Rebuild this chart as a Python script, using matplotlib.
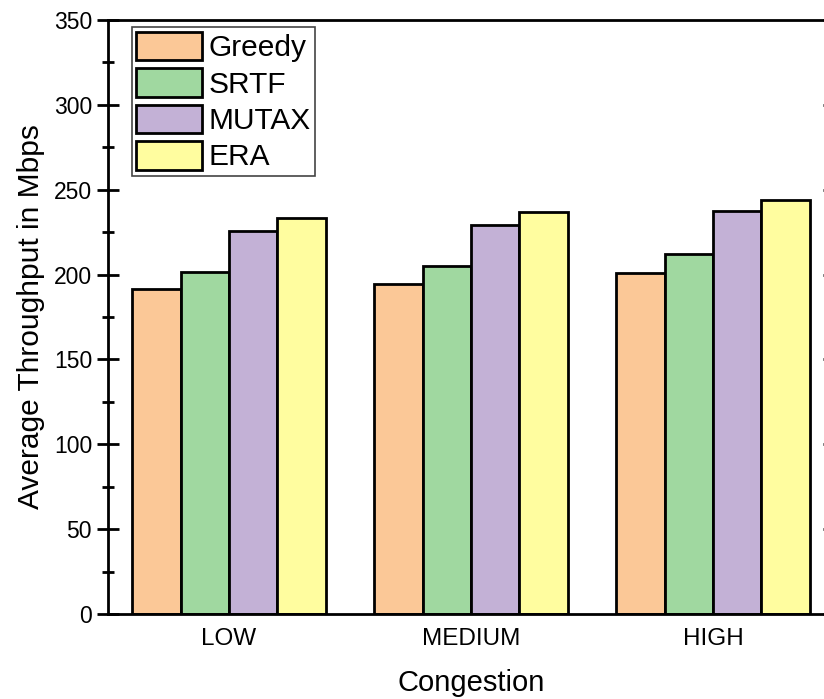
import numpy as np
import matplotlib as mpl
mpl.use('Agg')
import matplotlib.pyplot as plt
from matplotlib.ticker import MultipleLocator

plt.rcParams['font.family'] = ['Liberation Sans', 'DejaVu Sans']

categories = ['LOW', 'MEDIUM', 'HIGH']
methods = ['Greedy', 'SRTF', 'MUTAX', 'ERA']
greedy = [191.5, 194.5, 201]
srtf = [201.5, 205, 212]
mutax = [225.5, 229, 237.5]
era = [233.5, 237, 244]
colors = ['#fbc897', '#a0d8a0', '#c3b1d6', '#fffd9f']

fig = plt.figure(figsize=(8.24, 6.99), dpi=100)
# right edge of the axes sits just past the picture, as in the original
ax = fig.add_axes([108/824, 85/699, 726/824, 594/699])

x = np.arange(len(categories))
w = 0.2
for i, (vals, name) in enumerate(zip([greedy, srtf, mutax, era], methods)):
    ax.bar(x + (i - 1.5) * w, vals, w, color=colors[i], edgecolor='black',
           linewidth=2, label=name)

ax.set_xlim(-0.5, 2.5)
ax.set_ylim(0, 350)
ax.set_xticks(x)
ax.set_xticklabels(categories, fontsize=17.5)
ax.tick_params(axis='x', length=0, pad=10)
ax.yaxis.set_major_locator(MultipleLocator(50))
ax.yaxis.set_minor_locator(MultipleLocator(25))
ax.tick_params(axis='y', which='major', direction='inout', length=16, width=2,
               labelsize=16.5, right=True)
ax.tick_params(axis='y', which='minor', direction='inout', length=9, width=2,
               right=True)
for s in ax.spines.values():
    s.set_linewidth(2)

ax.set_xlabel('Congestion', fontsize=21, labelpad=14)
ax.set_ylabel('Average Throughput in Mbps', fontsize=21.5, labelpad=6)

leg = ax.legend(loc='upper left', bbox_to_anchor=(0.033, 0.988), fontsize=21.5,
                handlelength=2.2, handleheight=1.1, labelspacing=0.2,
                handletextpad=0.2, borderpad=0.15, borderaxespad=0,
                fancybox=False, framealpha=1)
leg.get_frame().set_edgecolor('#444444')
leg.get_frame().set_linewidth(1.2)

fig.savefig('out.png', dpi=100)
